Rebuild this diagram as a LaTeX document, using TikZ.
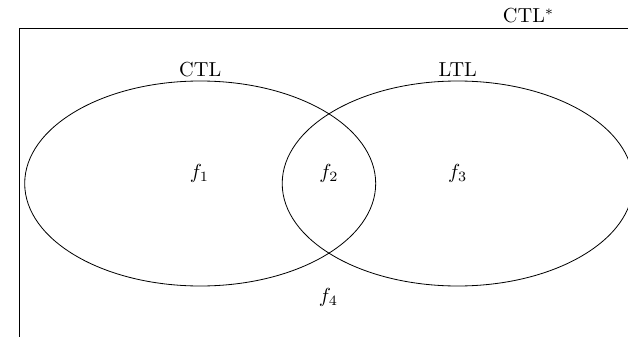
\documentclass[tikz,border=0pt]{standalone}
\begin{document}
\begin{tikzpicture}[x=0.4925pt,y=-0.4925pt,
  region/.style={draw=black,line width=0.4pt},
  lbl/.style={inner sep=0pt,anchor=base},
  flabel/.style={inner sep=0pt}]
\useasboundingbox (0,0) rectangle (628,337);
\clip (0,0) rectangle (628,337);
\draw[region,line width=0.5pt] (19.3,28.5) rectangle (700,400);
\node[lbl] (ctlstar) at (528.6,22.7) {CTL$^*$};
\draw[region] (200.2,183.5) ellipse [x radius=175.5, y radius=102.5];
\draw[region] (457.7,183.5) ellipse [x radius=175.5, y radius=102.5];
\node[lbl] (ctl) at (200.2,76) {CTL};
\node[lbl] (ltl) at (457.7,76) {LTL};
\node[flabel] (f1) at (199.5,173.5) {$f_1$};
\node[flabel] (f2) at (329,173.5) {$f_2$};
\node[flabel] (f3) at (457.7,173.5) {$f_3$};
\node[flabel] (f4) at (328.5,297) {$f_4$};
\end{tikzpicture}
\end{document}
